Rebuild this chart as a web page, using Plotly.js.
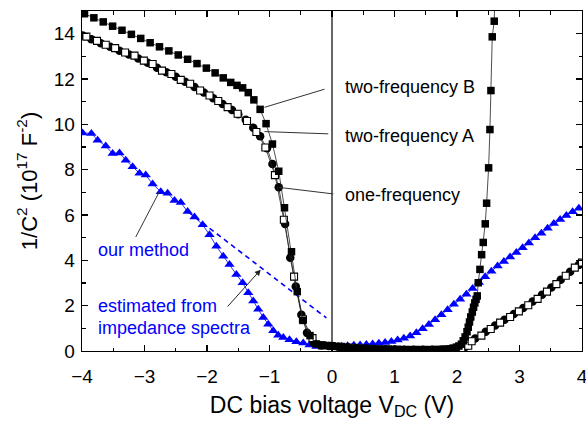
<!DOCTYPE html>
<html><head><meta charset="utf-8">
<script src="https://cdn.plot.ly/plotly-3.0.1.min.js"></script>
<style>html,body{margin:0;padding:0;background:#fff}#chart{width:586px;height:423px}</style>
</head><body><div id="chart"></div>
<script>
// two-frequency B (filled squares)
const bX = [-3.96,-3.81,-3.66,-3.51,-3.36,-3.21,-3.06,-2.91,-2.76,-2.61,-2.46,-2.31,-2.16,-2.01,-1.87,-1.74,-1.62,-1.52,-1.43,-1.34,-1.25,-1.15,-1.055,-0.953,-0.852,-0.76,-0.648,-0.556,-0.465,-0.352,-0.25,-0.149,-0.037,0.045,0.15,0.25,0.35,0.45,0.55,0.65,0.75,0.85,0.95,1.05,1.15,1.25,1.35,1.45,1.55,1.65,1.71,1.77,1.83,1.89,1.94,1.99,2.03,2.07,2.10,2.13,2.16,2.18,2.20,2.22,2.245,2.265,2.285,2.305,2.324,2.34,2.367,2.394,2.42,2.452,2.474,2.506,2.527,2.543,2.564,2.596,2.615];
const bY = [14.88,14.7,14.52,14.33,14.15,13.97,13.79,13.6,13.42,13.24,13.06,12.87,12.68,12.48,12.27,12.05,11.85,11.72,11.61,11.4,11.08,10.66,10.03,9.13,7.93,6.32,4.38,2.62,1.35,0.68,0.31,0.25,0.24,0.2,0.17,0.14,0.12,0.1,0.09,0.08,0.07,0.06,0.06,0.05,0.05,0.05,0.05,0.05,0.05,0.06,0.06,0.07,0.08,0.1,0.13,0.17,0.22,0.3,0.45,0.62,0.85,1.05,1.28,1.5,1.72,1.93,2.12,2.28,2.43,3.01,3.6,4.25,4.79,5.61,6.52,8.08,9.77,11.49,13.86,14.55,17];
// two-frequency A (open squares)
const aX = [-3.93,-3.76,-3.62,-3.47,-3.31,-3.16,-3.01,-2.87,-2.72,-2.57,-2.42,-2.27,-2.11,-1.96,-1.82,-1.67,-1.51,-1.36,-1.21,-1.066,-0.913,-0.77,-0.607,-0.465,-0.312,-0.159,-0.006,0.15,0.3,0.45,0.6,0.75,0.9,1.05,1.2,1.35,1.5,1.65,1.8,1.95,2.07,2.18,2.234,2.39,2.54,2.69,2.85,2.99,3.14,3.29,3.44,3.59,3.74,3.885,4.0];
const aY = [13.87,13.68,13.51,13.36,13.17,13.03,12.81,12.66,12.37,12.22,11.96,11.79,11.49,11.27,11.03,10.76,10.47,10.15,9.66,8.98,7.76,5.79,3.28,1.4,0.57,0.25,0.22,0.18,0.15,0.12,0.1,0.08,0.07,0.06,0.05,0.05,0.05,0.05,0.05,0.06,0.1,0.23,0.43,0.68,0.97,1.25,1.5,1.75,2.02,2.3,2.62,2.95,3.32,3.68,3.9];
// one-frequency (filled circles)
const cX = [-3.99,-3.85,-3.7,-3.55,-3.4,-3.25,-3.1,-2.95,-2.8,-2.65,-2.5,-2.35,-2.2,-2.05,-1.9,-1.75,-1.6,-1.5,-1.38,-1.26,-1.15,-1.04,-0.953,-0.852,-0.75,-0.668,-0.58,-0.49,-0.4,-0.29,-0.17,-0.05,0.1,0.25,0.4,0.55,0.7,0.85,1.0,1.15,1.3,1.45,1.6,1.75,1.9,2.02,2.12,2.29,2.46,2.61,2.76,2.91,3.06,3.21,3.36,3.51,3.66,3.81,3.95];
const cY = [13.92,13.75,13.58,13.42,13.25,13.08,12.9,12.72,12.5,12.3,12.1,11.88,11.65,11.4,11.15,10.9,10.63,10.45,10.2,9.85,9.47,8.95,8.25,7.22,5.6,4.11,2.85,1.6,0.8,0.35,0.25,0.22,0.19,0.16,0.13,0.11,0.09,0.08,0.07,0.06,0.05,0.05,0.05,0.05,0.05,0.07,0.15,0.55,0.85,1.12,1.38,1.63,1.9,2.18,2.48,2.8,3.14,3.5,3.8];
// our method (blue triangles)
const tX = [-3.99,-3.85,-3.75,-3.62,-3.51,-3.40,-3.30,-3.19,-3.08,-2.98,-2.87,-2.74,-2.63,-2.52,-2.42,-2.31,-2.20,-2.07,-1.96,-1.85,-1.74,-1.64,-1.53,-1.43,-1.34,-1.26,-1.18,-1.10,-1.02,-0.94,-0.86,-0.78,-0.68,-0.57,-0.46,-0.36,-0.25,-0.15,-0.05,0.05,0.15,0.25,0.35,0.45,0.55,0.65,0.75,0.85,0.95,1.05,1.15,1.25,1.35,1.45,1.55,1.65,1.75,1.85,1.95,2.05,2.15,2.25,2.35,2.45,2.55,2.65,2.75,2.85,2.95,3.05,3.15,3.25,3.35,3.45,3.55,3.65,3.75,3.85,3.95];
const tY = [9.62,9.6,9.3,9.04,8.71,8.74,8.42,8.13,7.84,7.76,7.37,7.03,6.96,6.64,6.55,6.15,5.91,5.57,5.13,4.62,4.18,3.82,3.38,3.01,2.57,2.21,1.84,1.48,1.18,0.89,0.70,0.60,0.50,0.41,0.35,0.26,0.20,0.19,0.19,0.2,0.21,0.23,0.25,0.27,0.29,0.31,0.34,0.38,0.42,0.48,0.56,0.66,0.8,0.98,1.17,1.38,1.6,1.82,2.06,2.28,2.5,2.76,3.02,3.28,3.52,3.75,3.95,4.15,4.35,4.55,4.76,5.0,5.2,5.42,5.62,5.8,5.98,6.14,6.3];
// estimated from impedance spectra (dashed fit)
const fitX = [-2.3,-0.09];
const fitY = [6.14,1.46];

const FONT = 'Arial, "Liberation Sans", sans-serif';
const blue = '#0000ff';
const traces = [
  {x: tX, y: tY, mode: 'lines+markers', line: {color: blue, width: 0.8},
   marker: {symbol: 'triangle-up', size: 9, color: blue}},
  {x: fitX, y: fitY, mode: 'lines', line: {color: blue, width: 1.6, dash: '5px,4px'}},
  {x: cX, y: cY, mode: 'lines+markers', line: {color: '#222', width: 0.8},
   marker: {symbol: 'circle', size: 8.5, color: '#000'}},
  {x: aX, y: aY, mode: 'lines+markers', line: {color: '#222', width: 0.8},
   marker: {symbol: 'square', size: 7, color: '#fff', line: {color: '#000', width: 1.1}}},
  {x: bX, y: bY, mode: 'lines+markers', line: {color: '#222', width: 0.8},
   marker: {symbol: 'square', size: 7.5, color: '#000'}}
];

const axisCommon = {
  showline: true, linecolor: '#000', linewidth: 1.3, mirror: 'allticks',
  ticks: 'inside', ticklen: 6, tickwidth: 1.1, tickcolor: '#000',
  showgrid: false, zeroline: false,
  tickfont: {family: FONT, size: 19, color: '#000'},
  minor: {ticks: 'inside', ticklen: 3.5, tickwidth: 1.1, tickcolor: '#000', nticks: 2}
};

const lineShape = (x0, y0, x1, y1) => ({type: 'line', xref: 'x', yref: 'y', x0, y0, x1, y1,
  line: {color: '#333', width: 1}});

const layout = {
  width: 586, height: 423,
  margin: {l: 82, r: 4, t: 11, b: 72},
  paper_bgcolor: '#fff', plot_bgcolor: '#fff',
  showlegend: false,
  font: {family: FONT, color: '#000'},
  xaxis: Object.assign({}, axisCommon, {
    range: [-4, 4.0001], dtick: 1, tick0: -4, ticklabelstandoff: 8, ticklabeloverflow: 'allow',
    title: {text: 'DC bias voltage V<sub>DC</sub> (V)', font: {family: FONT, size: 23, color: '#000'}, standoff: 10}
  }),
  yaxis: Object.assign({}, axisCommon, {
    range: [0, 15], dtick: 2, tick0: 0, ticklabelstandoff: 2,
    title: {text: '1/C<sup>2</sup> (10<sup>17</sup> F<sup>-2</sup>)', font: {family: FONT, size: 22, color: '#000'}, standoff: 10}
  }),
  shapes: [
    {type: 'line', xref: 'x', yref: 'y', x0: 0, x1: 0, y0: 0, y1: 15, layer: 'below', line: {color: '#000', width: 1.2}},
    lineShape(-0.12, 11.55, -1.08, 10.75),
    lineShape(-0.06, 9.58, -1.08, 9.68),
    lineShape(0.02, 6.93, -0.85, 7.22),
    lineShape(-3.14, 5.03, -2.76, 7.04)
  ],
  annotations: [
    {x: 0.17, y: 11.65, xref: 'x', yref: 'y', text: 'two-frequency B', showarrow: false, xanchor: 'left', yanchor: 'middle', font: {family: FONT, size: 18, color: '#000'}},
    {x: 0.17, y: 9.49, xref: 'x', yref: 'y', text: 'two-frequency A', showarrow: false, xanchor: 'left', yanchor: 'middle', font: {family: FONT, size: 18, color: '#000'}},
    {x: 0.17, y: 6.89, xref: 'x', yref: 'y', text: 'one-frequency', showarrow: false, xanchor: 'left', yanchor: 'middle', font: {family: FONT, size: 18, color: '#000'}},
    {x: -3.78, y: 4.47, xref: 'x', yref: 'y', text: 'our method', showarrow: false, xanchor: 'left', yanchor: 'middle', font: {family: FONT, size: 18, color: blue}},
    {x: -3.78, y: 1.97, xref: 'x', yref: 'y', text: 'estimated from', showarrow: false, xanchor: 'left', yanchor: 'middle', font: {family: FONT, size: 18, color: blue}},
    {x: -3.78, y: 1.02, xref: 'x', yref: 'y', text: 'impedance spectra', showarrow: false, xanchor: 'left', yanchor: 'middle', font: {family: FONT, size: 18, color: blue}},
    {x: -1.14, y: 3.59, xref: 'x', yref: 'y', ax: -1.69, ay: 1.9, axref: 'x', ayref: 'y', text: '', showarrow: true,
     arrowhead: 2, arrowsize: 1.2, arrowwidth: 1, arrowcolor: '#222'}
  ]
};

Plotly.newPlot('chart', traces, layout, {staticPlot: true, displayModeBar: false});
</script>
</body></html>
